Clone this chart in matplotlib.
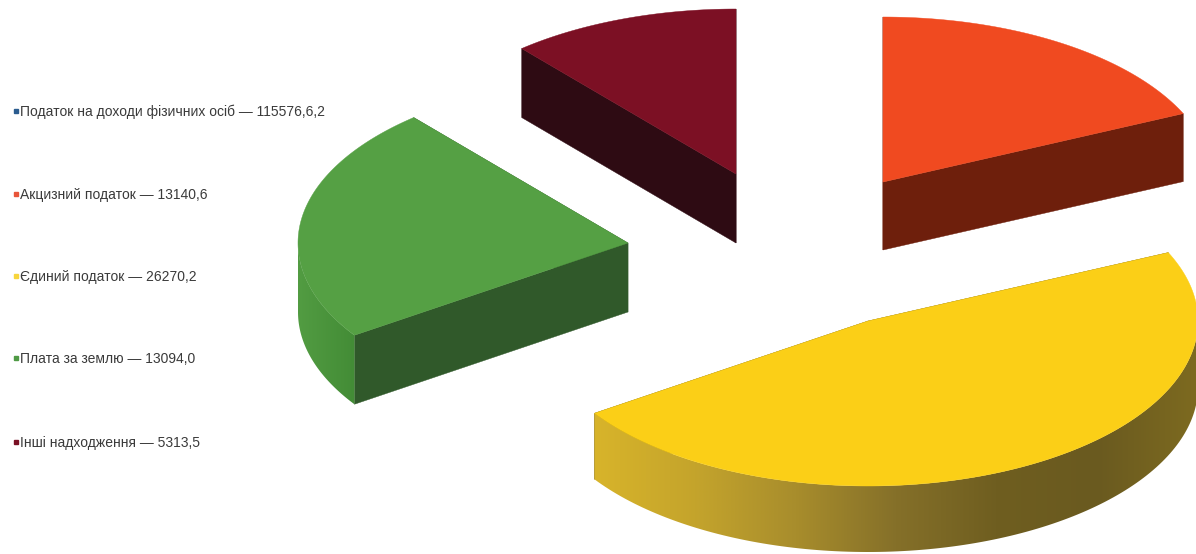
import matplotlib
matplotlib.use("Agg")
import matplotlib.pyplot as plt
from matplotlib.patches import Polygon
import numpy as np

plt.rcParams['font.family'] = ['Liberation Sans', 'DejaVu Sans']

# legend entries
names = ["Податок на доходи фізичних осіб", "Акцизний податок", "Єдиний податок",
         "Плата за землю", "Інші надходження"]
amounts = ["115576,6,2", "13140,6", "26270,2", "13094,0", "5313,5"]
legend_colors = ["#2b5c8f", "#e8553a", "#f7d53c", "#4f9a45", "#7a1024"]

# slices, clockwise from 12 o'clock (sweep, degrees)
slice_sweep = [65.5, 170.5, 83.5, 40.5]
top_colors = ["#f04a20", "#fbcf17", "#55a044", "#7c1024"]
cut_colors = ["#6e1f0c", "#6b5a17", "#30592a", "#2e0b13"]
# wall colours, left to right
wall_colors = [["#6e1f0c", "#6e1f0c"],
               ["#d8b42a", "#c4a42c", "#a88d2c", "#857029", "#6f5e20", "#6a5a1f", "#7d6a20"],
               ["#529c42", "#438c36"],
               ["#2e0b13", "#2e0b13"]]
apexes = [(883, 182), (868, 321), (628, 243), (736, 174)]
depths = [68, 66, 69, 69]

RX, RY = 330, 165

fig = plt.figure(figsize=(11.96, 5.54), dpi=100)
ax = fig.add_axes([0, 0, 1, 1])
ax.set_xlim(0, 1196)
ax.set_ylim(554, 0)
ax.axis('off')


def draw_slice(apex, t1, t2, depth, top, cut, walls):
    ts = np.radians(np.linspace(t1, t2, 160))
    xs = apex[0] + RX * np.cos(ts)
    ys = apex[1] - RY * np.sin(ts)
    # cut faces
    for ex, ey in [(xs[0], ys[0]), (xs[-1], ys[-1])]:
        quad = [apex, (ex, ey), (ex, ey + depth), (apex[0], apex[1] + depth)]
        ax.add_patch(Polygon(quad, closed=True, fc=cut, ec=cut, lw=0.3, zorder=2))
    # outer wall, only the part facing the viewer
    front = np.sin(ts) < 0
    if front.any():
        wx, wy = xs[front], ys[front]
        wall = np.column_stack([np.r_[wx, wx[::-1]], np.r_[wy, wy[::-1] + depth]])
        x0, x1 = wx.min(), wx.max()
        rgb = np.array([matplotlib.colors.to_rgb(c) for c in walls])
        stops = np.linspace(0, 1, len(walls))
        pos = np.linspace(0, 1, 256)
        img = np.stack([np.interp(pos, stops, rgb[:, i]) for i in range(3)], axis=1)[None, :, :]
        y0, y1 = wy.min(), wy.max() + depth
        im = ax.imshow(img, extent=[x0, x1, y1, y0], aspect='auto', zorder=3)
        clip = Polygon(wall, closed=True, transform=ax.transData, fc='none', ec='none')
        ax.add_patch(clip)
        im.set_clip_path(clip)
    face = np.column_stack([np.r_[apex[0], xs], np.r_[apex[1], ys]])
    ax.add_patch(Polygon(face, closed=True, fc=top, ec=top, lw=0.3, zorder=4))


start = 90
for i, sweep in enumerate(slice_sweep):
    draw_slice(apexes[i], start, start - sweep, depths[i], top_colors[i], cut_colors[i], wall_colors[i])
    start -= sweep

ax.set_xlim(0, 1196)
ax.set_ylim(554, 0)

legend_y = [112, 195, 277, 359, 443]
for name, amount, color, y in zip(names, amounts, legend_colors, legend_y):
    ax.plot([16], [y - 1], marker='s', ms=3.2, color=color, zorder=5)
    ax.text(20, y, f"{name} — {amount}", fontsize=10, color="#3a3a3a", va='center', ha='left', zorder=5)

fig.savefig("out.png", dpi=100)
